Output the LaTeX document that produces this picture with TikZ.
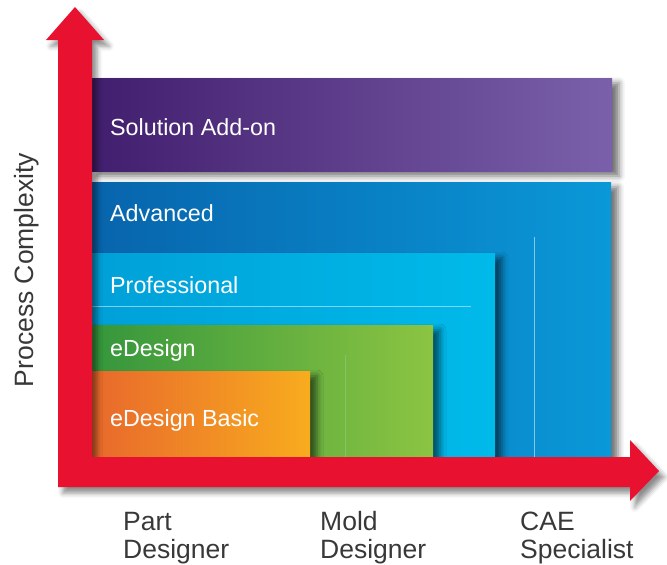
\documentclass[tikz,border=0pt]{standalone}
\usepackage{fontspec}
\setmainfont{Liberation Sans}
\usetikzlibrary{shadows.blur}
\definecolor{axisred}{RGB}{232,18,48}
\definecolor{addonL}{RGB}{66,30,110}
\definecolor{addonR}{RGB}{122,96,170}
\definecolor{advL}{RGB}{8,100,172}
\definecolor{advR}{RGB}{10,152,216}
\definecolor{proL}{RGB}{0,160,216}
\definecolor{proR}{RGB}{0,186,234}
\definecolor{edL}{RGB}{52,150,60}
\definecolor{edR}{RGB}{140,196,66}
\definecolor{basicL}{RGB}{232,104,44}
\definecolor{basicR}{RGB}{248,172,30}

\begin{document}
\begin{tikzpicture}[x=1pt, y=-1pt,
    tier/.style={blur shadow={shadow xshift=7pt, shadow yshift=-5pt, shadow blur radius=6pt, shadow opacity=55}},
    tierlabel/.style={anchor=west, text=white, inner sep=0pt, font=\fontsize{23.3}{26}\selectfont},
    axislabel/.style={anchor=base west, text=black!78, inner sep=0pt, align=left, font=\fontsize{26.5}{28}\selectfont},
    seam/.style={color=cyan!30!white, line width=0.8pt, opacity=0.7}
]
\useasboundingbox (0,0) rectangle (667,565);

% Tiers, biggest first
\fill[tier, left color=addonL, right color=addonR] (90,78) rectangle (612,171);
\fill[tier, left color=advL, right color=advR] (90,182) rectangle (611,460);
\fill[tier, left color=proL, right color=proR] (90,253) rectangle (495,460);
\fill[tier, left color=edL, right color=edR] (90,325) rectangle (433,460);
\fill[tier, left color=basicL, right color=basicR] (90,371) rectangle (310,460);

% Thin seams
\draw[seam] (534,237) -- (534,457);
\draw[seam] (90,306) -- (471,306);
\draw[seam, opacity=0.25] (345,355) -- (345,457);

% Axes
\fill[axisred, blur shadow={shadow xshift=5pt, shadow yshift=-6pt, shadow blur radius=5pt, shadow opacity=45}]
  (58,487) -- (58,40) -- (46,40) -- (75,7) -- (104,40) -- (92,40) -- (92,457)
  -- (630,457) -- (630,440) -- (659,471) -- (630,501) -- (630,487) -- cycle;

% Tier labels
\node[tierlabel] (addon) at (110,127) {Solution Add-on};
\node[tierlabel] (adv) at (110,213) {Advanced};
\node[tierlabel] (pro) at (110,285) {Professional};
\node[tierlabel] (ed) at (110,350) {eDesign};
\node[tierlabel] (basic) at (110,420) {eDesign Basic};

% Axis labels (base = last line)
\node[axislabel, anchor=base, rotate=90] (complexity) at (33,270) {Process Complexity};
\node[axislabel] (part) at (123,558) {Part\\Designer};
\node[axislabel] (mold) at (320,558) {Mold\\Designer};
\node[axislabel] (cae) at (520,558) {CAE\\Specialist};

\end{tikzpicture}
\end{document}
